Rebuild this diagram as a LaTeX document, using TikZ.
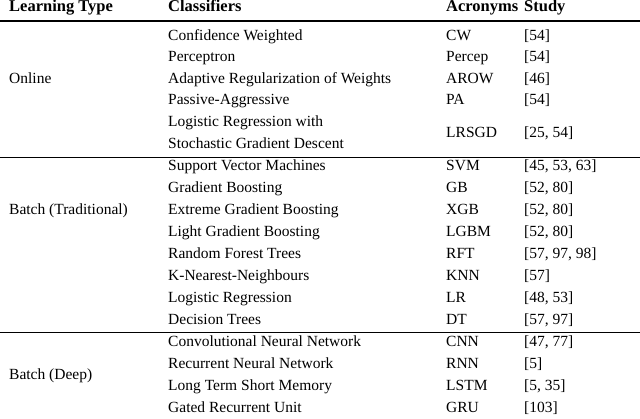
\documentclass[tikz,border=0pt]{standalone}
\usepackage{fontspec}
\setmainfont{Liberation Serif}
\begin{document}
\begin{tikzpicture}[x=1pt,y=-1pt,
  t/.style={anchor=west,inner sep=0pt,text height=10.5pt,text depth=3.5pt,font=\fontsize{15.5}{17}\selectfont},
  h/.style={t,font=\fontsize{16.5}{18}\selectfont\bfseries}]
\useasboundingbox (0,0) rectangle (640,419);
\node[h] (h1) at (9,8.5) {Learning Type};
\node[h] (h2) at (168,8.5) {Classifiers};
\node[h] (h3) at (446,8.5) {Acronyms};
\node[h] (h4) at (524,8.5) {Study};
\draw[line width=1.1pt] (0,21) -- (640,21);
\draw[line width=0.6pt] (0,157) -- (640,157);
\draw[line width=0.6pt] (0,332) -- (640,332);
\node[t] (g1) at (9,80) {Online};
\node[t] (g2) at (9,211) {Batch (Traditional)};
\node[t] (g3) at (9,376) {Batch (Deep)};
\foreach \y/\c/\a/\s [count=\i] in {
 37/Confidence Weighted/CW/{[54]},
 58/Perceptron/Percep/{[54]},
 80/Adaptive Regularization of Weights/AROW/{[46]},
 101/Passive-Aggressive/PA/{[54]},
 167/Support Vector Machines/SVM/{[45, 53, 63]},
 189/Gradient Boosting/GB/{[52, 80]},
 211/Extreme Gradient Boosting/XGB/{[52, 80]},
 233/Light Gradient Boosting/LGBM/{[52, 80]},
 255/Random Forest Trees/RFT/{[57, 97, 98]},
 277/K-Nearest-Neighbours/KNN/{[57]},
 299/Logistic Regression/LR/{[48, 53]},
 321/Decision Trees/DT/{[57, 97]},
 343/Convolutional Neural Network/CNN/{[47, 77]},
 365/Recurrent Neural Network/RNN/{[5]},
 387/Long Term Short Memory/LSTM/{[5, 35]},
 409/Gated Recurrent Unit/GRU/{[103]}}{
 \node[t] (c\i) at (168,\y) {\c};
 \node[t] (a\i) at (446,\y) {\a};
 \node[t] (s\i) at (524,\y) {\s};
}
\node[t] (cx1) at (168,123) {Logistic Regression with};
\node[t] (cx2) at (168,145) {Stochastic Gradient Descent};
\node[t] (ax) at (446,134) {LRSGD};
\node[t] (sx) at (524,134) {[25, 54]};
\end{tikzpicture}
\end{document}
